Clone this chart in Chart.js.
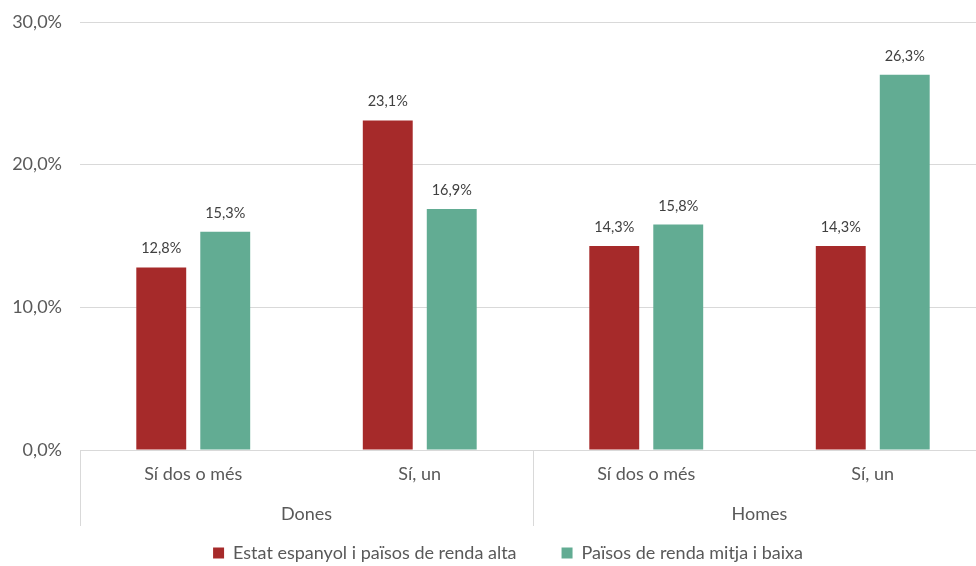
<!DOCTYPE html>
<html>
<head>
<meta charset="utf-8">
<script src="https://cdn.jsdelivr.net/npm/chart.js@4"></script>
<style>
  html, body { margin: 0; padding: 0; background: #fff; overflow: hidden; }
  #wrap { width: 986px; height: 572px; }
</style>
</head>
<body>
<div id="wrap"><canvas id="myChart"></canvas></div>
<script>
// categories (inner level) and groups (outer level)
const categories = ['Sí dos o més', 'Sí, un', 'Sí dos o més', 'Sí, un'];
const groups = ['Dones', 'Homes'];
// series values, in %
const altaValues = [12.8, 23.1, 14.3, 14.3];
const baixaValues = [15.3, 16.9, 15.8, 26.3];
const seriesNames = ['Estat espanyol i països de renda alta', 'Països de renda mitja i baixa'];
const yTicks = [0, 10, 20, 30];

const fmt = v => v.toFixed(1).replace('.', ',') + '%';
const fontFamily = 'Lato, "Open Sans", sans-serif';
const textColor = '#595959';
const lineColor = '#d9d9d9';

// draws value labels above bars
const barLabels = {
    id: 'barLabels',
    afterDatasetsDraw(chart) {
        const ctx = chart.ctx;
        ctx.save();
        ctx.font = '14.5px ' + fontFamily;
        ctx.fillStyle = '#404040';
        ctx.textAlign = 'center';
        ctx.textBaseline = 'alphabetic';
        chart.data.datasets.forEach((ds, i) => {
            chart.getDatasetMeta(i).data.forEach((bar, j) => {
                ctx.fillText(fmt(ds.data[j]), bar.x, bar.y - 14);
            });
        });
        ctx.restore();
    }
};

// second level of the x axis: group separators and group names
const groupAxis = {
    id: 'groupAxis',
    afterLayout(chart) {
        // centre the legend like the original (it sits a bit right of the canvas middle)
        chart.legend.left += 15;
        chart.legend.right += 15;
    },
    afterDraw(chart) {
        const ctx = chart.ctx;
        const x = chart.scales.x;
        const bottom = chart.chartArea.bottom;
        const per = categories.length / groups.length;
        const step = x.getPixelForValue(1) - x.getPixelForValue(0);
        ctx.save();
        ctx.strokeStyle = lineColor;
        ctx.lineWidth = 1;
        ctx.font = '18px ' + fontFamily;
        ctx.fillStyle = textColor;
        ctx.textAlign = 'center';
        ctx.textBaseline = 'middle';
        for (let g = 0; g <= groups.length; g++) {
            const px = Math.round(x.getPixelForValue(g * per) - step / 2) + 0.5;
            ctx.beginPath();
            ctx.moveTo(px, bottom);
            ctx.lineTo(px, bottom + 76);
            ctx.stroke();
        }
        groups.forEach((name, g) => {
            const a = x.getPixelForValue(g * per);
            const b = x.getPixelForValue(g * per + per - 1);
            ctx.fillText(name, (a + b) / 2, bottom + 64);
        });
        ctx.restore();
    }
};

const ctx = document.getElementById('myChart').getContext('2d');
const chart = new Chart(ctx, {
    type: 'bar',
    data: {
        labels: categories,
        datasets: [{
            label: seriesNames[0],
            data: altaValues,
            backgroundColor: '#a62a2a',
            categoryPercentage: 0.565,
            barPercentage: 0.78
        }, {
            label: seriesNames[1],
            data: baixaValues,
            backgroundColor: '#62ac93',
            categoryPercentage: 0.565,
            barPercentage: 0.78
        }]
    },
    options: {
        responsive: true,
        maintainAspectRatio: false,
        animation: false,
        layout: { padding: { top: 22, right: 0, bottom: 0, left: 0 } },
        plugins: {
            legend: {
                position: 'bottom',
                labels: {
                    boxWidth: 11,
                    boxHeight: 11,
                    padding: 45,
                    color: textColor,
                    font: { family: fontFamily, size: 18 }
                }
            },
            tooltip: { enabled: false }
        },
        scales: {
            x: {
                grid: { display: false, drawTicks: false },
                border: { color: lineColor },
                ticks: {
                    color: textColor,
                    padding: 13,
                    font: { family: fontFamily, size: 18 }
                },
                afterFit: scale => { scale.height = 49; }
            },
            y: {
                min: 0,
                max: 30,
                afterBuildTicks: scale => { scale.ticks = yTicks.map(v => ({ value: v })); },
                grid: { color: lineColor, drawTicks: false },
                border: { display: false },
                ticks: {
                    color: textColor,
                    padding: 18,
                    font: { family: fontFamily, size: 18 },
                    callback: v => fmt(v)
                },
                afterFit: scale => {
                    scale.width = 80;
                    scale.paddingTop = 0;
                    scale.paddingBottom = 0;
                }
            }
        }
    },
    plugins: [barLabels, groupAxis]
});
</script>
</body>
</html>
